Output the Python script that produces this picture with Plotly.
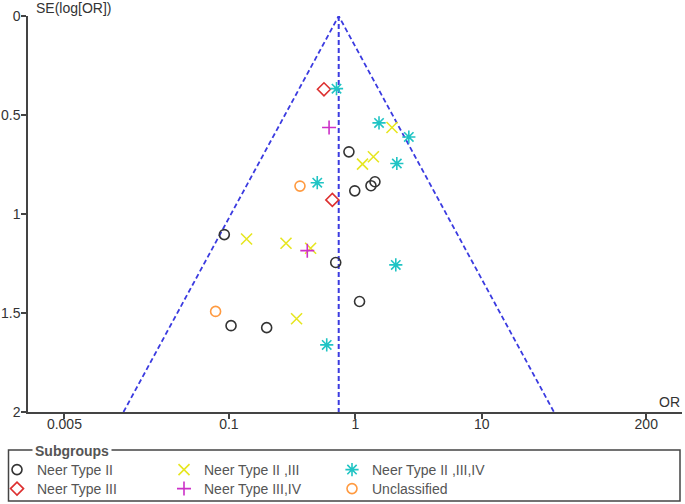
import numpy as np
import plotly.graph_objects as go

# ---------------- data ----------------
pooled_or = 0.739
se_max = 2.0

groups = ["Neer Type II", "Neer Type II ,III", "Neer Type II ,III,IV",
          "Neer Type III", "Neer Type III,IV", "Unclassified"]

type2_or = [0.89, 1.43, 1.33, 0.99, 0.092, 0.70, 1.08, 0.104, 0.199]
type2_se = [0.686, 0.837, 0.857, 0.883, 1.104, 1.245, 1.442, 1.564, 1.574]

type23_or = [1.95, 1.39, 1.14, 0.138, 0.283, 0.443, 0.343]
type23_se = [0.563, 0.711, 0.748, 1.126, 1.148, 1.173, 1.529]

type234_or = [0.71, 1.54, 2.65, 2.13, 0.50, 2.09, 0.594]
type234_se = [0.367, 0.540, 0.611, 0.745, 0.842, 1.257, 1.661]

type3_or = [0.565, 0.658]
type3_se = [0.370, 0.929]

type34_or = [0.62, 0.417]
type34_se = [0.563, 1.185]

uncl_or = [0.365, 0.0785]
uncl_se = [0.859, 1.492]

x_tickvals = [0.005, 0.1, 1, 10, 200]
x_ticktext = ["0.005", "0.1", "1", "10", "200"]
y_tickvals = [0, 0.5, 1, 1.5, 2]
y_ticktext = ["0", "0.5", "1", "1.5", "2"]

# ---------------- layout geometry ----------------
W_FIG, H_FIG = 685, 504
L, R, T, B = 28, 3, 16, 92
PW = W_FIG - L - R
PH = H_FIG - T - B


def pxx(p):
    return (p - L) / PW


def pxy(p):
    return (H_FIG - B - p) / PH


FONT = "Liberation Sans, Arial, sans-serif"
AXIS_COL = "#444444"
TEXT_COL = "#333333"
BLUE = "#3b3be0"

fig = go.Figure()

# funnel (pseudo 95% confidence limits) and pooled-estimate line
se_line = [0.0, se_max]
left_x = [pooled_or * np.exp(-1.96 * s) for s in se_line]
right_x = [pooled_or * np.exp(1.96 * s) for s in se_line]
fig.add_trace(go.Scatter(x=[left_x[1], pooled_or, right_x[1]], y=[se_max, 0, se_max],
                         mode="lines", line=dict(color=BLUE, width=1.8, dash="5px,3px"),
                         showlegend=False, hoverinfo="skip"))
fig.add_trace(go.Scatter(x=[pooled_or, pooled_or], y=[0, se_max],
                         mode="lines", line=dict(color=BLUE, width=2, dash="5px,3px"),
                         showlegend=False, hoverinfo="skip"))

# (name, x, y, symbol, colour, size, legend id, legend left px, legend top px)
series = [
    (groups[0], type2_or, type2_se, "circle-open", "#333333", 10, "legend", -3, 454),
    (groups[3], type3_or, type3_se, "diamond-open", "#dd3030", 10, "legend2", -3, 473),
    (groups[1], type23_or, type23_se, "x-thin-open", "#e6e620", 11, "legend3", 164, 454),
    (groups[4], type34_or, type34_se, "cross-thin-open", "#cc30c8", 10, "legend4", 164, 473),
    (groups[2], type234_or, type234_se, "asterisk-open", "#20c4c4", 11, "legend5", 332, 454),
    (groups[5], uncl_or, uncl_se, "circle-open", "#ff9a40", 10, "legend6", 332, 473),
]

leg_font = dict(family=FONT, size=14, color="#555555")
legends = {}
for name, xs, ys, sym, col, size, leg, lx, ly in series:
    fig.add_trace(go.Scatter(
        x=xs, y=ys, mode="markers", name=name, legend=leg,
        marker=dict(symbol=sym, size=size, color=col,
                    line=dict(color=col, width=1.6)),
    ))
    legends[leg] = dict(orientation="v", xanchor="left", yanchor="top",
                        x=pxx(lx), y=pxy(ly),
                        bgcolor="rgba(0,0,0,0)", borderwidth=0, font=leg_font,
                        tracegroupgap=0, traceorder="normal")

fig.update_layout(
    width=W_FIG, height=H_FIG,
    margin=dict(l=L, r=R, t=T, b=B, pad=0, autoexpand=False),
    paper_bgcolor="white", plot_bgcolor="white",
    font=dict(family=FONT, size=14, color=TEXT_COL),
    xaxis=dict(type="log", range=[-2.589, 2.584], tickvals=x_tickvals, ticktext=x_ticktext,
               showgrid=False, zeroline=False, showline=True, linecolor=AXIS_COL, linewidth=1.5,
               ticks="outside", ticklen=5, tickwidth=1.5, tickcolor=AXIS_COL,
               ticklabelstandoff=-7, automargin=False,
               tickfont=dict(family=FONT, size=14, color=TEXT_COL)),
    yaxis=dict(range=[2, 0], tickvals=y_tickvals, ticktext=y_ticktext,
               showgrid=False, zeroline=False, showline=True, linecolor=AXIS_COL, linewidth=1.5,
               ticks="outside", ticklen=5, tickwidth=1.5, tickcolor=AXIS_COL,
               ticklabelstandoff=-2, automargin=False,
               tickfont=dict(family=FONT, size=14, color=TEXT_COL)),
    showlegend=True,
    **legends,
)

# legend frame
fig.add_shape(type="rect", xref="paper", yref="paper",
              x0=pxx(8.5), x1=pxx(680), y0=pxy(501), y1=pxy(450),
              line=dict(color="#444444", width=1.5), fillcolor="rgba(0,0,0,0)")

fig.add_annotation(xref="paper", yref="paper", x=pxx(32), y=pxy(450.5),
                   xanchor="left", yanchor="middle", showarrow=False,
                   text="<b>Subgroups</b>", bgcolor="white", borderpad=2,
                   font=dict(family=FONT, size=14, color="#555555"))

# axis titles
fig.add_annotation(xref="paper", yref="paper", x=pxx(34), y=pxy(8),
                   xanchor="left", yanchor="middle", showarrow=False,
                   text="SE(log[OR])", font=dict(family=FONT, size=14, color=TEXT_COL))
fig.add_annotation(xref="paper", yref="paper", x=pxx(682), y=pxy(402),
                   xanchor="right", yanchor="middle", showarrow=False,
                   text="OR", font=dict(family=FONT, size=14, color=TEXT_COL))

fig.write_html("out.html",
               config={"displayModeBar": False},
               post_script="document.body.style.margin='0';document.body.style.padding='0';")
